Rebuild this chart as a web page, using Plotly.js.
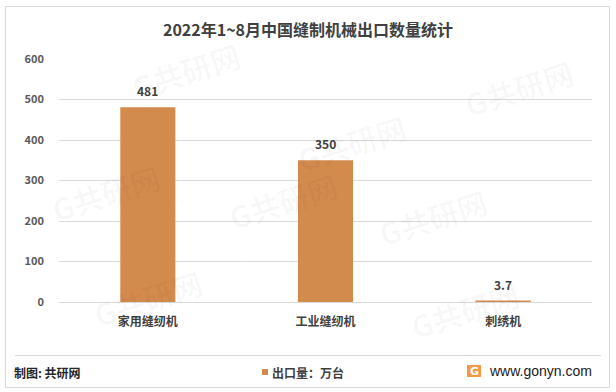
<!DOCTYPE html>
<html>
<head>
<meta charset="utf-8">
<script src="https://cdn.plot.ly/plotly-3.0.1.min.js"></script>
<style>
html,body{margin:0;padding:0;background:#fff;}
#chart{width:616px;height:392px;}
</style>
</head>
<body>
<div id="chart"></div>
<script>
const categories = ["家用缝纫机", "工业缝纫机", "刺绣机"];
const exportValues = [481, 350, 3.7];
const valueLabels = ["481", "350", "3.7"];
const yTicks = [0, 100, 200, 300, 400, 500, 600];
const seriesName = "出口量：万台";
const titleText = "2022年1~8月中国缝制机械出口数量统计";

const FONT = "Noto Sans CJK SC, Microsoft YaHei, sans-serif";
// plot area in pixels
const L = 59, R = 592, T = 59, B = 302;
const px = x => (x - L) / (R - L);
const py = y => (B - y) / (B - T);

const trace = {
  type: "bar",
  x: categories,
  y: exportValues,
  name: seriesName,
  marker: {color: "#D38A4D"},
  hoverinfo: "x+y",
  showlegend: false
};

const valueAnnotations = categories.map((c, i) => ({
  x: c, y: exportValues[i], xref: "x", yref: "y",
  text: valueLabels[i], showarrow: false, yanchor: "bottom", yshift: 6,
  font: {family: FONT, size: 12, color: "#404040", weight: 600}
}));

const watermarks = [];
[[0.12, 1.12], [0.55, 0.82], [0.98, 1.05], [-0.03, 0.45], [0.42, 0.25], [0.82, 0.35], [0.05, -0.15], [0.88, -0.2]].forEach(p => {
  watermarks.push({xref: "paper", yref: "paper", x: p[0], y: p[1], text: "<b>G共研网</b>", showarrow: false,
    font: {family: FONT, size: 30, color: "rgba(0,0,0,0.03)"}, textangle: -18});
  watermarks.push({xref: "paper", yref: "paper", x: p[0] + 0.03, y: p[1] - 0.11, text: "w w w . g o n y n . c o m", showarrow: false,
    font: {family: FONT, size: 12, color: "rgba(0,0,0,0.03)"}, textangle: -18});
});

const layout = {
  width: 616, height: 392,
  margin: {l: L, r: 616 - R, t: T, b: 392 - B, pad: 0, autoexpand: false},
  paper_bgcolor: "#ffffff",
  plot_bgcolor: "#ffffff",
  title: {text: "<b>" + titleText + "</b>", x: 0.5, xanchor: "center", y: 1 - 30/392, yanchor: "middle",
    font: {family: FONT, size: 16, color: "#404040"}},
  bargap: 0.69,
  showlegend: false,
  xaxis: {
    type: "category",
    tickfont: {family: FONT, size: 12, color: "#404040", weight: 600},
    showline: false, showgrid: false, ticks: "", zeroline: false,
    ticklabelstandoff: 11, automargin: false
  },
  yaxis: {
    range: [0, 600],
    tickvals: yTicks,
    ticktext: yTicks.map(String),
    tickfont: {family: FONT, size: 11, color: "#595959", weight: 600},
    showgrid: true, gridcolor: "#D9D9D9", gridwidth: 1,
    zeroline: true, zerolinecolor: "#D9D9D9", zerolinewidth: 1,
    showline: false, ticks: "", ticklabelstandoff: 14, automargin: false
  },
  shapes: [
    {type: "rect", xref: "paper", yref: "paper", x0: px(5.5), x1: px(609.5), y0: py(387.5), y1: py(6.5),
      line: {color: "#D9D9D9", width: 1}, fillcolor: "rgba(0,0,0,0)", layer: "below"},
    {type: "line", xref: "paper", yref: "paper", x0: px(15), x1: px(601), y0: py(355.5), y1: py(355.5),
      line: {color: "#D9D9D9", width: 1}},
    // legend swatch for the bar series
    {type: "rect", xref: "paper", yref: "paper", x0: px(262), x1: px(268), y0: py(375), y1: py(369),
      line: {width: 0}, fillcolor: "#D38A4D"},
    // logo
    {type: "rect", xref: "paper", yref: "paper", x0: px(467), x1: px(481), y0: py(377), y1: py(365),
      line: {width: 0}, fillcolor: "#F39A47"}
  ],
  annotations: watermarks.concat(valueAnnotations).concat([
    {xref: "paper", yref: "paper", x: px(270), y: py(372), xanchor: "left", yanchor: "middle", showarrow: false,
      text: "<b>" + seriesName + "</b>", font: {family: FONT, size: 12, color: "#404040"}},
    {xref: "paper", yref: "paper", x: px(12), y: py(372), xanchor: "left", yanchor: "middle", showarrow: false,
      text: "制图: 共研网", font: {family: FONT, size: 12, color: "#262626", weight: 600}},
    {xref: "paper", yref: "paper", x: px(474), y: py(371), xanchor: "center", yanchor: "middle", showarrow: false,
      text: "<b>G</b>", font: {family: "DejaVu Sans, sans-serif", size: 11, color: "#ffffff"}},
    {xref: "paper", yref: "paper", x: px(487), y: py(371), xanchor: "left", yanchor: "middle", showarrow: false,
      text: "www.gonyn.com", font: {family: "Liberation Sans, Arial, sans-serif", size: 14, color: "#1a1a1a"}}
  ])
};

Plotly.newPlot("chart", [trace], layout, {displayModeBar: false, staticPlot: true});
</script>
</body>
</html>
